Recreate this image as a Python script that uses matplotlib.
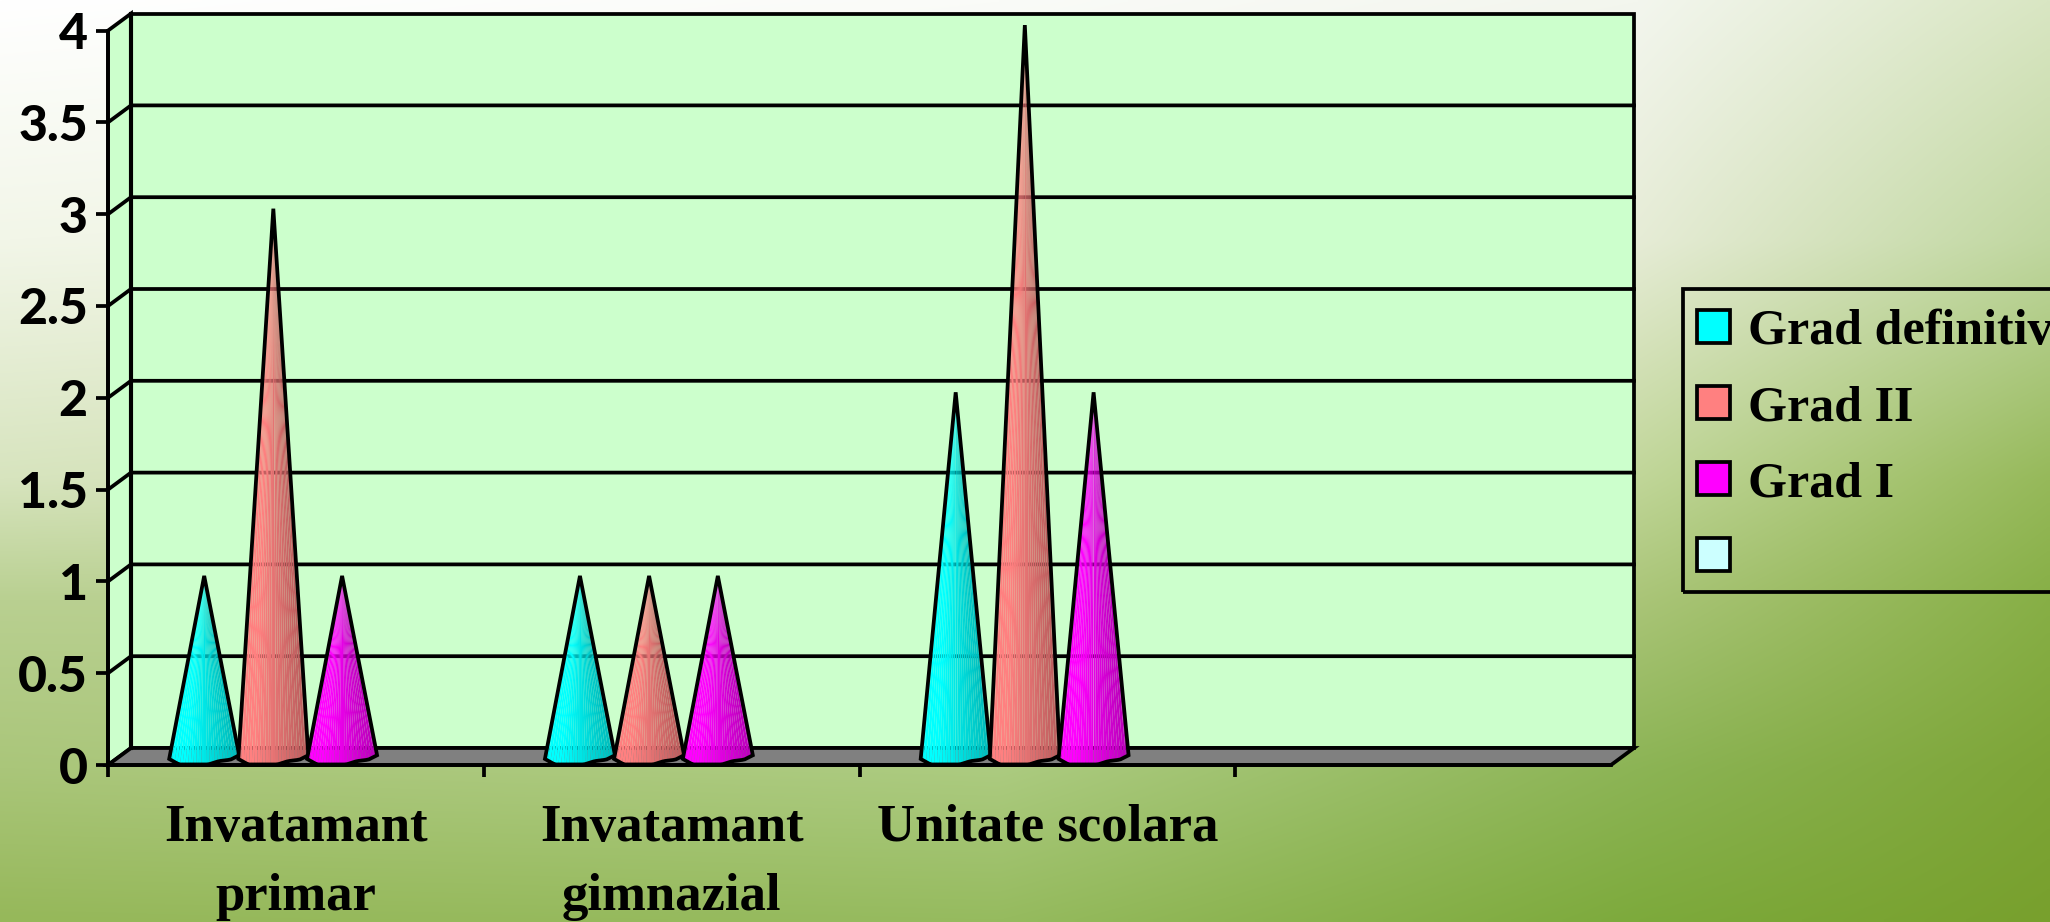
import numpy as np
import matplotlib
matplotlib.use('Agg')
import matplotlib.pyplot as plt
from matplotlib.colors import to_rgb
from matplotlib.patches import Patch, Polygon, Rectangle

categories = ['Invatamant\nprimar', 'Invatamant\ngimnazial', 'Unitate scolara', '']
series_names = ['Grad definitiv', 'Grad II', 'Grad I', '']
grad_definitiv = [1, 1, 2]
grad_ii = [3, 1, 4]
grad_i = [1, 1, 2]
series_empty = []
y_ticks = [0, 0.5, 1, 1.5, 2, 2.5, 3, 3.5, 4]
y_tick_labels = ['0', '0.5', '1', '1.5', '2', '2.5', '3', '3.5', '4']
series_values = [grad_definitiv, grad_ii, grad_i, series_empty]
series_colors = ['#00FFFF', '#FF8080', '#FF00FF', '#CCFFFF']
series_offsets = [0.256, 0.44, 0.623, 0.8]

W, H = 2050, 922
fig = plt.figure(figsize=(W / 100, H / 100), dpi=100)

# background gradient (colour field sampled by eye)
gx = [0, 1000, 1640, 2050]
gy = [0, 240, 480, 600, 770, 922]
gc = np.array([
    [[255, 255, 255], [250, 251, 248], [243, 246, 238], [217, 230, 195]],
    [[242, 246, 232], [238, 243, 225], [230, 236, 214], [192, 215, 160]],
    [[215, 228, 190], [205, 222, 170], [192, 214, 152], [150, 185, 90]],
    [[185, 208, 145], [185, 208, 145], [170, 197, 120], [135, 175, 70]],
    [[170, 198, 122], [172, 203, 128], [140, 180, 85], [125, 165, 55]],
    [[150, 184, 90], [150, 187, 95], [125, 170, 60], [120, 160, 45]],
], dtype=float) / 255
fx = np.linspace(0, W, 410)
fy = np.linspace(0, H, 185)
tmp = np.stack([np.stack([np.interp(fx, gx, gc[r, :, c]) for c in range(3)], -1) for r in range(len(gy))])
field = np.stack([np.stack([np.interp(fy, gy, tmp[:, i, c]) for c in range(3)], -1) for i in range(len(fx))], 1)
bg = fig.add_axes([0, 0, 1, 1], zorder=0)
bg.axis('off')
bg.imshow(field, aspect='auto', extent=[0, 1, 1, 0], interpolation='bilinear')

ax = fig.add_axes([108 / W, (H - 765) / H, 1503 / W, 734.4 / H], zorder=1)
ax.set_xlim(0, 4)
ax.set_ylim(0, 4)
ax.patch.set_alpha(0)
for s in ax.spines.values():
    s.set_visible(False)

LW = 2.7
dx, dy = 23 / 375.75, 17 / 183.6
k = dict(clip_on=False)
# walls and floor
ax.add_patch(Polygon([(dx, dy), (4 + dx, dy), (4 + dx, 4 + dy), (dx, 4 + dy)], fc='#CCFFCC', ec='k', lw=LW, zorder=1, **k))
ax.add_patch(Polygon([(0, 0), (dx, dy), (dx, 4 + dy), (0, 4)], fc='#CCFFCC', ec='k', lw=LW, zorder=1, **k))
ax.add_patch(Polygon([(0, 0), (4, 0), (4 + dx, dy), (dx, dy)], fc='#808080', ec='k', lw=LW, zorder=1.5, **k))
for v in y_ticks[1:-1]:
    ax.plot([0, dx, 4 + dx], [v, v + dy, v + dy], color='k', lw=LW, zorder=2, **k)
ax.plot([0, 0], [0, 4], color='k', lw=LW, zorder=2, **k)
ax.plot([dx, dx], [dy, 4 + dy], color='k', lw=LW * 1.1, zorder=2, **k)
ax.plot([0, 4], [0, 0], color='k', lw=LW, zorder=2, **k)

# cones
hw = 35 / 375.75
base_y = 0.035
n = 26
us = np.linspace(-1, 1, n + 1)
u_ctrl = [-1, -0.72, 0.12, 0.42, 0.75, 1]
off_ctrl = [-0.002, -0.032, -0.032, -0.014, -0.006, 0.018]
z = 3.0
for vals, col, off in zip(series_values, series_colors, series_offsets):
    rgb = np.array(to_rgb(col))
    for i, v in enumerate(vals):
        cx = i + off
        apex = (cx, v + base_y - 0.005)
        bx = cx + hw * us
        by = base_y + np.interp(us, u_ctrl, off_ctrl)
        for j in range(n):
            um = 0.5 * (us[j] + us[j + 1])
            shade = 1.0 - 0.27 * np.clip((um + 0.55) / 1.55, 0, 1)
            ax.add_patch(Polygon([apex, (bx[j], by[j]), (bx[j + 1], by[j + 1])],
                                 fc=rgb * shade, ec='none', zorder=z, **k))
        outline = [apex] + list(zip(bx, by))
        ax.add_patch(Polygon(outline, fc='none', ec='k', lw=LW, joinstyle='miter', zorder=z + 0.5, **k))
        z += 1

# axes ticks and labels
ax.set_yticks(y_ticks)
ax.set_yticklabels(y_tick_labels, fontname='Lato', fontweight='black', fontsize=36)
ax.tick_params(axis='y', length=8.6, width=LW, pad=6)
ax.set_xticks(range(4))
ax.set_xticklabels([])
ax.tick_params(axis='x', which='major', length=8.6, width=LW)
ax.set_xticks(np.arange(len(categories)) + 0.5, minor=True)
ax.set_xticklabels(categories, minor=True, fontname='Liberation Serif', fontweight='bold',
                   fontsize=38, linespacing=1.56, va='top')
ax.tick_params(axis='x', which='minor', length=0, pad=28)

# legend
fig.add_artist(Rectangle((1683 / W, (H - 592) / H), 400 / W, 303 / H, transform=fig.transFigure,
                         fc='none', ec='k', lw=LW))
handles = [Patch(fc=c, ec='k', lw=LW) for c in series_colors]
leg = fig.legend(handles, series_names, loc='upper left',
                 bbox_to_anchor=(1697 / W, (H - 309) / H), bbox_transform=fig.transFigure,
                 prop={'family': 'Liberation Serif', 'weight': 'bold', 'size': 36},
                 frameon=False, handlelength=0.66, handleheight=0.64, handletextpad=0.36,
                 labelspacing=0.60, borderpad=0, borderaxespad=0)
leg.set_zorder(5)

fig.savefig('out.png', dpi=100)
